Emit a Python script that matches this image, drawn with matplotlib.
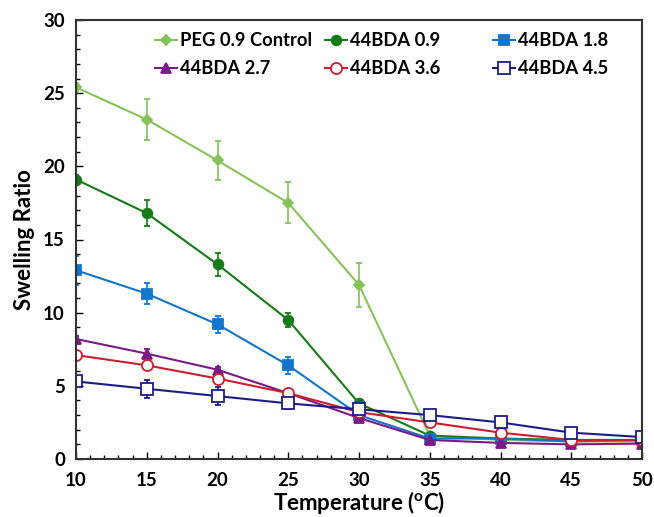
import matplotlib
matplotlib.use("Agg")
import matplotlib.pyplot as plt
from matplotlib.ticker import MultipleLocator

plt.rcParams['font.family'] = ['Lato', 'DejaVu Sans']
plt.rcParams['font.weight'] = 'bold'

temps = [10, 15, 20, 25, 30, 35, 40, 45, 50]
labels = ["PEG 0.9 Control", "44BDA 0.9", "44BDA 1.8", "44BDA 2.7", "44BDA 3.6", "44BDA 4.5"]
peg = [25.4, 23.2, 20.4, 17.5, 11.9, 1.6, 1.3, 1.2, 1.2]
peg_err = [0.3, 1.4, 1.3, 1.4, 1.5, 0.2, 0.2, 0.1, 0.1]
bda09 = [19.1, 16.8, 13.3, 9.5, 3.8, 1.6, 1.4, 1.3, 1.3]
bda09_err = [0.3, 0.9, 0.8, 0.5, 0.2, 0.1, 0.1, 0.1, 0.1]
bda18 = [12.9, 11.3, 9.2, 6.4, 3.0, 1.4, 1.4, 1.2, 1.3]
bda18_err = [1.0, 0.7, 0.6, 0.6, 0.2, 0.1, 0.1, 0.1, 0.1]
bda27 = [8.2, 7.2, 6.1, 4.5, 2.8, 1.3, 1.1, 1.0, 1.05]
bda27_err = [0.2, 0.3, 0.2, 0.2, 0.2, 0.1, 0.1, 0.1, 0.1]
bda36 = [7.1, 6.4, 5.5, 4.5, 3.2, 2.5, 1.8, 1.3, 1.3]
bda36_err = [0.2, 0.2, 0.2, 0.2, 0.2, 0.2, 0.2, 0.1, 0.1]
bda45 = [5.3, 4.8, 4.3, 3.8, 3.4, 3.0, 2.5, 1.8, 1.5]
bda45_err = [0.3, 0.6, 0.6, 0.4, 0.3, 0.3, 0.3, 0.3, 0.2]

series = [peg, bda09, bda18, bda27, bda36, bda45]
errs = [peg_err, bda09_err, bda18_err, bda27_err, bda36_err, bda45_err]
colors = ['#86c25a', '#167a16', '#1275cc', '#7a1a86', '#cc1f2e', '#1c1c88']
markers = ['D', 'o', 's', '^', 'o', 's']
msizes = [5, 7, 7, 7, 8, 8]
filled = [True, True, True, True, False, False]

fig = plt.figure(figsize=(6.54, 5.17), dpi=100)
ax = fig.add_axes([76/654, 1-459/517, (642-76)/654, (459-20)/517])

handles = []
for y, e, c, m, ms, f, lab in zip(series, errs, colors, markers, msizes, filled, labels):
    h = ax.errorbar(temps, y, yerr=e, color=c, marker=m, markersize=ms,
                    markerfacecolor=c if f else 'white', markeredgecolor=c,
                    markeredgewidth=1.3, linewidth=1.5, capsize=2.5, elinewidth=1.2,
                    label=lab)
    handles.append(h[0])

ax.set_xlim(10, 50)
ax.set_ylim(0, 30)
ax.xaxis.set_major_locator(MultipleLocator(5))
ax.xaxis.set_minor_locator(MultipleLocator(1))
ax.yaxis.set_major_locator(MultipleLocator(5))
ax.yaxis.set_minor_locator(MultipleLocator(1))
ax.tick_params(which='both', direction='in', labelsize=13.5, width=1)
ax.tick_params(which='major', length=5)
ax.tick_params(which='minor', length=3)
ax.tick_params(axis='x', pad=9)
ax.tick_params(axis='y', pad=8)
for lab in ax.get_xticklabels() + ax.get_yticklabels():
    lab.set_fontweight('bold')
for s in ax.spines.values():
    s.set_linewidth(1.5)
    s.set_color('#333333')

ax.set_xlabel("Temperature ($\\mathregular{^{o}}$C)", fontsize=16, fontweight='bold', labelpad=0)
ax.set_ylabel("Swelling Ratio", fontsize=16, fontweight='bold', labelpad=6)

# three legend columns placed like the reference
col_groups = [[0, 3], [1, 4], [2, 5]]
col_x = [155, 325, 493]
for k, (grp, xpx) in enumerate(zip(col_groups, col_x)):
    leg = ax.legend([handles[i] for i in grp], [labels[i] for i in grp],
                    loc='upper left', bbox_to_anchor=((xpx-76)/566, 1-(32-20)/439),
                    frameon=False, borderpad=0, borderaxespad=0,
                    handlelength=1.2, handletextpad=0.15, labelspacing=0.6,
                    prop={'weight': 'bold', 'size': 13.2})
    if k < 2:
        ax.add_artist(leg)

fig.savefig("out.png", dpi=100)
